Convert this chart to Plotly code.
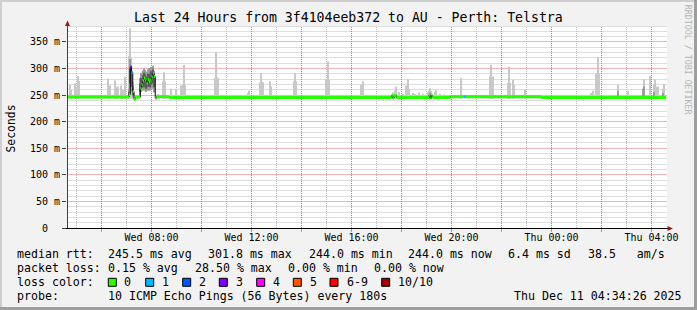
import math
import plotly.graph_objects as go

# ---------------- data ----------------
DAYS = {"Wed": "2025-12-10", "Thu": "2025-12-11"}


def ts(s):
    d, hm = s.split()
    return DAYS[d] + " " + hm


title_text = "Last 24 Hours from 3f4104eeb372 to AU - Perth: Telstra"
x_start, x_end = "Wed 04:37:12", "Thu 04:37:12"
SAMPLE_MS = 180000  # one probe every 180 s

xtick_time = ["Wed 06:00", "Wed 08:00", "Wed 10:00", "Wed 12:00", "Wed 14:00", "Wed 16:00",
              "Wed 18:00", "Wed 20:00", "Wed 22:00", "Thu 00:00", "Thu 02:00", "Thu 04:00"]
xtick_text = ["", "Wed 08:00", "", "Wed 12:00", "", "Wed 16:00",
              "", "Wed 20:00", "", "Thu 00:00", "", "Thu 04:00"]
ytick_vals = [0, 50, 100, 150, 200, 250, 300, 350]
ytick_text = ["0\u00a0\u00a0", "50 m", "100 m", "150 m", "200 m", "250 m", "300 m", "350 m"]

# median rtt (ms) breakpoints, step-wise, with packets lost (of 10)
median_time = ["Wed 04:36", "Wed 07:06", "Wed 07:09", "Wed 07:12", "Wed 07:15", "Wed 07:18", "Wed 07:21",
               "Wed 07:33", "Wed 07:36", "Wed 07:39", "Wed 07:42", "Wed 07:45", "Wed 07:48", "Wed 07:51",
               "Wed 07:54", "Wed 07:57", "Wed 08:00", "Wed 08:03", "Wed 08:06", "Wed 08:09", "Wed 08:12",
               "Wed 08:42", "Wed 17:36", "Wed 17:39", "Wed 17:42", "Wed 17:48", "Wed 19:06", "Wed 19:09",
               "Wed 19:12", "Wed 19:15", "Wed 19:57", "Wed 20:30", "Wed 20:33", "Wed 23:35", "Thu 04:35"]
median_ms = [246.5, 251, 303, 293, 257, 242, 246,
             263, 270, 277, 282, 279, 273, 279,
             275, 278, 284, 291, 285, 244, 247,
             245.5, 249, 244, 249, 245.5, 250, 244,
             249, 245.5, 247, 247, 247, 245.5, 245.5]
median_loss = [0, 0, 3, 1, 0, 0, 0,
               0, 0, 0, 0, 0, 0, 0,
               0, 0, 0, 1, 0, 0, 0,
               0, 0, 0, 0, 0, 0, 0,
               0, 0, 0, 1, 0, 0, 0]

# smoke: single high pings (light grey), top in ms
smoke_floor = 243
spike_time = ["Wed 04:45", "Wed 04:48", "Wed 04:57", "Wed 05:00", "Wed 05:03", "Wed 05:06",
              "Wed 06:15", "Wed 06:21", "Wed 06:33", "Wed 06:36", "Wed 06:39", "Wed 06:48",
              "Wed 06:51", "Wed 06:57", "Wed 07:06", "Wed 07:09", "Wed 07:12", "Wed 07:15",
              "Wed 08:15", "Wed 08:18", "Wed 08:27", "Wed 08:30", "Wed 08:33", "Wed 08:48",
              "Wed 09:00", "Wed 09:12", "Wed 09:15", "Wed 09:18", "Wed 09:21",
              "Wed 10:33", "Wed 10:36", "Wed 10:39", "Wed 11:51", "Wed 11:54",
              "Wed 12:21", "Wed 12:24", "Wed 12:27", "Wed 12:45", "Wed 12:48",
              "Wed 13:42", "Wed 13:45", "Wed 13:48", "Wed 15:00", "Wed 15:03", "Wed 15:06",
              "Wed 16:24", "Wed 16:27", "Wed 17:03", "Wed 17:39", "Wed 17:45", "Wed 17:48",
              "Wed 17:54", "Wed 18:03", "Wed 18:12", "Wed 18:15", "Wed 18:18", "Wed 18:27",
              "Wed 18:33", "Wed 18:42", "Wed 18:51", "Wed 19:03", "Wed 19:06", "Wed 19:09",
              "Wed 19:12", "Wed 19:21", "Wed 19:24", "Wed 19:33", "Wed 19:42", "Wed 20:24",
              "Wed 21:33", "Wed 21:36", "Wed 21:39", "Wed 22:15", "Wed 22:18", "Wed 22:21",
              "Wed 22:27", "Wed 22:30", "Wed 22:57", "Thu 01:36", "Thu 01:39", "Thu 01:48",
              "Thu 01:51", "Thu 01:54", "Thu 02:09", "Thu 02:39", "Thu 03:03", "Thu 03:39",
              "Thu 03:42", "Thu 03:57", "Thu 04:06", "Thu 04:09", "Thu 04:12", "Thu 04:15",
              "Thu 04:27", "Thu 04:30"]
spike_top = [269, 260, 272, 263, 286, 276,
             281, 268, 278, 265, 266, 268,
             260, 284, 324, 376, 320, 275,
             252, 250, 276, 293, 276, 262,
             262, 268, 270, 307, 270,
             282, 331, 282, 254, 258,
             274, 291, 274, 276, 266,
             276, 291, 276, 280, 313, 280,
             270, 276, 250, 255, 258, 266,
             256, 252, 268, 280, 262, 254,
             252, 255, 252, 256, 258, 263,
             258, 256, 259, 252, 251, 282,
             285, 307, 285, 273, 304, 273,
             279, 269, 260, 254, 258, 291,
             321, 291, 250, 269, 258, 262,
             280, 286, 270, 280, 266, 266,
             262, 271]

# smoke: darker band where several pings were high
mid_time = ["Wed 19:09", "Thu 02:39", "Thu 03:39", "Thu 03:42", "Thu 04:06", "Thu 04:27"]
mid_top = [255, 258, 262, 266, 256, 254]

# smoke cloud around 07:00-08:10
cloud_time = ["Wed 07:06", "Wed 07:09", "Wed 07:12", "Wed 07:15", "Wed 07:33", "Wed 07:36",
              "Wed 07:39", "Wed 07:42", "Wed 07:45", "Wed 07:48", "Wed 07:51", "Wed 07:54",
              "Wed 07:57", "Wed 08:00", "Wed 08:03", "Wed 08:06"]
cloud_outer_lo = [246, 255, 256, 247, 250, 256, 258, 260, 258, 256, 258, 260, 258, 262, 262, 255]
cloud_outer_hi = [262, 318, 305, 268, 282, 292, 296, 300, 297, 294, 298, 301, 296, 303, 305, 296]
cloud_inner_lo = [248, 272, 266, 250, 256, 263, 265, 268, 265, 262, 266, 266, 265, 270, 272, 265]
cloud_inner_hi = [256, 300, 292, 262, 272, 282, 288, 292, 289, 285, 290, 290, 288, 295, 298, 290]

legend_rows = [
    [("median rtt:", 16), ("245.5 ms avg", 107.3), ("301.8 ms max", 207.3), ("244.0 ms min", 307.5),
     ("244.0 ms now", 407.3), ("6.4 ms sd", 507.3), ("38.5   am/s", 586.7)],
    [("packet loss:", 16), ("0.15 % avg", 107.3), ("28.50 % max", 193.5), ("0.00 % min", 286.5),
     ("0.00 % now", 372.7)],
    [("loss color:", 16)],
    [("probe:", 16), ("10 ICMP Echo Pings (56 Bytes) every 180s", 107.3), ("Thu Dec 11 04:34:26 2025", 513.3)],
]
legend_row_y = [254, 268.3, 282.3, 296]
loss_labels = ["0", "1", "2", "3", "4", "5", "6-9", "10/10"]
loss_colors = ["#26ff00", "#00b8ff", "#0059ff", "#7e00ff", "#ff00ff", "#ff5500", "#ff0000", "#a10000"]
swatch_x = [108.3, 145.7, 182.7, 219.3, 256.7, 293.3, 330, 381.7]
label_x = [123.3, 160.7, 197.7, 235, 271.7, 309, 346, 396.7]

# grid definition
Y_MAX = 380
grid_minor_ms = 10
grid_major_ms = 50

# ---------------- geometry ----------------
W, H = 697, 310
L, R, T, B = 67, 30, 26, 82
PW, PH = W - L - R, H - T - B
FONT = "DejaVu Sans Mono"
START_H = 4 + 37.2 / 60  # hours after Wed 00:00 at left edge


def px(xp):
    return (xp - L) / PW


def py(yp):
    return (H - B - yp) / PH


def snap(p):
    return math.floor(p) + 0.5


def loss_index(n):
    if n <= 5:
        return n
    if n < 10:
        return 6
    return 7


fig = go.Figure()

fig.add_bar(x=[ts(t) for t in spike_time], y=[h - smoke_floor for h in spike_top], base=smoke_floor,
            width=SAMPLE_MS, marker=dict(color="#c8c8c8", line=dict(width=0)))
fig.add_bar(x=[ts(t) for t in mid_time], y=[h - smoke_floor for h in mid_top], base=smoke_floor,
            width=SAMPLE_MS, marker=dict(color="#9c9c9c", line=dict(width=0)))
fig.add_bar(x=[ts(t) for t in cloud_time], y=[h - l for l, h in zip(cloud_outer_lo, cloud_outer_hi)],
            base=cloud_outer_lo, width=SAMPLE_MS, marker=dict(color="#9a9a9a", line=dict(width=0)))
fig.add_bar(x=[ts(t) for t in cloud_time], y=[h - l for l, h in zip(cloud_inner_lo, cloud_inner_hi)],
            base=cloud_inner_lo, width=SAMPLE_MS, marker=dict(color="#5a5a5a", line=dict(width=0)))

# thin black median line
fig.add_scatter(x=[ts(t) for t in median_time], y=median_ms, mode="lines",
                line=dict(color="#000000", width=1, shape="hv"))

# loss coloured thick median segments
for ci, col in enumerate(loss_colors):
    xs, ys = [], []
    for i in range(len(median_time) - 1):
        if loss_index(median_loss[i]) == ci:
            xs += [ts(median_time[i]), ts(median_time[i + 1]), None]
            ys += [median_ms[i], median_ms[i], None]
    if xs:
        fig.add_scatter(x=xs, y=ys, mode="lines", line=dict(color=col, width=3), connectgaps=False)

MAJOR = "#e26a6a"
MINOR = "#bdbdbd"

fig.update_layout(
    width=W, height=H, margin=dict(l=L, r=R, t=T, b=B, pad=0),
    paper_bgcolor="#f2f2f2", plot_bgcolor="#ffffff", showlegend=False, barmode="overlay",
    font=dict(family=FONT, size=10, color="#000000"),
)
fig.update_xaxes(
    type="date", range=[ts(x_start), ts(x_end)], tickvals=[ts(t) for t in xtick_time], ticktext=xtick_text,
    tickfont=dict(family=FONT, size=10, color="#000000"), ticks="outside", ticklen=3, tickcolor="#e08080",
    ticklabelstandoff=-3, showgrid=False, showline=False, zeroline=False, fixedrange=True,
)
fig.update_yaxes(
    range=[0, Y_MAX], tickvals=ytick_vals, ticktext=ytick_text, tickfont=dict(family=FONT, size=10, color="#000000"),
    ticks="outside", ticklen=4, tickcolor="#444444", showgrid=False,
    showline=False, zeroline=False, fixedrange=True,
)

shapes = []
# dotted grid (pixel-snapped)
for v in range(grid_minor_ms, Y_MAX + 1, grid_minor_ms):
    yp = snap(H - B - v * PH / Y_MAX)
    col = MAJOR if v % grid_major_ms == 0 else MINOR
    shapes.append(dict(type="line", xref="paper", yref="paper", x0=px(67.5), x1=px(L + PW), y0=py(yp), y1=py(yp),
                       line=dict(color=col, width=1, dash="1px,1px"), layer="below"))
for hh in range(5, 29):
    xp = snap(L + (hh - START_H) * PW / 24)
    col = MAJOR if hh % 2 == 0 else MINOR
    shapes.append(dict(type="line", xref="paper", yref="paper", x0=px(xp), x1=px(xp), y0=py(H - B), y1=py(T),
                       line=dict(color=col, width=1, dash="1px,1px"), layer="below"))
# frame
shapes.append(dict(type="rect", xref="paper", yref="paper", x0=px(0), x1=px(W), y0=py(0), y1=py(2),
                   fillcolor="#cfcfcf", line=dict(width=0), layer="above"))
shapes.append(dict(type="rect", xref="paper", yref="paper", x0=px(0), x1=px(2), y0=py(0), y1=py(H),
                   fillcolor="#cfcfcf", line=dict(width=0), layer="above"))
shapes.append(dict(type="rect", xref="paper", yref="paper", x0=px(W - 3), x1=px(W), y0=py(0), y1=py(H),
                   fillcolor="#9e9e9e", line=dict(width=0), layer="above"))
shapes.append(dict(type="rect", xref="paper", yref="paper", x0=px(0), x1=px(W), y0=py(H - 3), y1=py(H),
                   fillcolor="#9e9e9e", line=dict(width=0), layer="above"))
# axes with arrows
shapes.append(dict(type="line", xref="paper", yref="paper", x0=px(67.5), x1=px(67.5), y0=py(228), y1=py(22),
                   line=dict(color="#404040", width=1), layer="above"))
shapes.append(dict(type="line", xref="paper", yref="paper", x0=px(66), x1=px(669), y0=py(228.5), y1=py(228.5),
                   line=dict(color="#000000", width=1), layer="above"))


def tri(pts):
    return "M " + " L ".join(f"{px(a):.5f},{py(b):.5f}" for a, b in pts) + " Z"


shapes.append(dict(type="path", xref="paper", yref="paper", path=tri([(65, 26), (70, 26), (67.5, 20.5)]),
                   fillcolor="#961c1c", line=dict(width=0), layer="above"))
shapes.append(dict(type="path", xref="paper", yref="paper", path=tri([(667.5, 226), (667.5, 231), (673, 228.5)]),
                   fillcolor="#961c1c", line=dict(width=0), layer="above"))
# legend swatches
for sx, col in zip(swatch_x, loss_colors):
    shapes.append(dict(type="rect", xref="paper", yref="paper", x0=px(sx), x1=px(sx + 8),
                       y0=py(legend_row_y[2] + 4), y1=py(legend_row_y[2] - 4),
                       fillcolor=col, line=dict(color="#000000", width=1), layer="above"))
fig.update_layout(shapes=shapes)

ann = []
ann.append(dict(text=title_text, x=px(348), y=py(18), xref="paper", yref="paper", xanchor="center",
                yanchor="middle", showarrow=False, font=dict(family=FONT, size=13.2, color="#000000")))
ann.append(dict(text="Seconds", x=px(10.5), y=py(129), xref="paper", yref="paper", xanchor="center",
                yanchor="middle", textangle=-90, showarrow=False, font=dict(family=FONT, size=11.4, color="#000000")))
ann.append(dict(text="RRDTOOL / TOBI OETIKER", x=px(688.3), y=py(60), xref="paper", yref="paper",
                xanchor="center", yanchor="middle", textangle=90, showarrow=False,
                font=dict(family=FONT, size=8.3, color="#b4b4b4")))
for row, yv in zip(legend_rows, legend_row_y):
    for txt, xv in row:
        ann.append(dict(text=txt.replace(" ", "\u00a0"), x=px(xv), y=py(yv), xref="paper", yref="paper",
                        xanchor="left", yanchor="middle", showarrow=False, borderpad=0,
                        font=dict(family=FONT, size=11.6, color="#000000")))
for lx, lab in zip(label_x, loss_labels):
    ann.append(dict(text=lab, x=px(lx), y=py(legend_row_y[2]), xref="paper", yref="paper",
                    xanchor="left", yanchor="middle", showarrow=False, borderpad=0,
                    font=dict(family=FONT, size=11.6, color="#000000")))
fig.update_layout(annotations=ann)

fig.write_html("out.html", config={"displayModeBar": False})
